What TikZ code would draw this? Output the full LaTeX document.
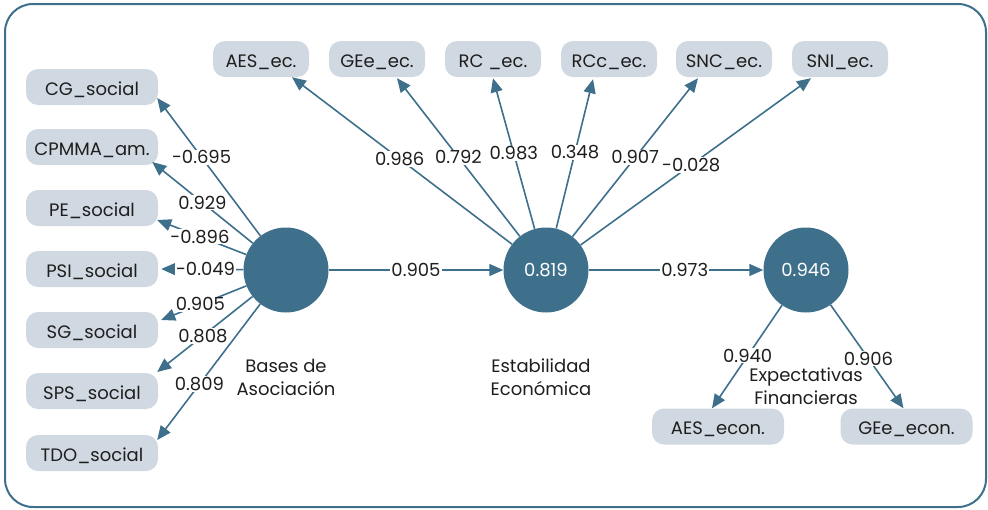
\documentclass[tikz,border=0pt]{standalone}
\usepackage{fontspec}
\setmainfont{Poppins}
\usetikzlibrary{arrows.meta,calc}
\definecolor{pathc}{RGB}{62,112,140}
\definecolor{boxc}{RGB}{208,217,225}
\definecolor{txtc}{RGB}{30,30,30}
\tikzset{
  ind/.style={rounded corners=12pt, fill=boxc, minimum height=36pt, inner sep=0pt, text=txtc, font=\fontsize{18}{21}\selectfont, text height=16pt, text depth=0pt},
  indl/.style={ind, minimum width=132pt},
  indt/.style={ind, minimum width=96pt},
  lat/.style={circle, fill=pathc, minimum size=85pt, inner sep=0pt, text=white, font=\fontsize{18}{21}\selectfont},
  conn/.style={draw=pathc, line width=1.6pt, -{Triangle[length=14pt,width=12pt]}},
  lbl/.style={fill=white, inner sep=1pt, text=txtc, font=\fontsize{18}{21}\selectfont},
  latcaption/.style={align=center, text=txtc, font=\fontsize{18}{23}\selectfont}
}
\begin{document}
\begin{tikzpicture}[x=1pt,y=-1pt]
\useasboundingbox (0,0) rectangle (988,509);
\draw[pathc, line width=2pt, rounded corners=28pt] (5,4) rectangle (986,507);
% latent variables
\node[lat] (ba) at (286,270) {};
\node[lat] (ee) at (546,270) {0.819};
\node[lat] (ef) at (806,270) {0.946};
\node[latcaption] (cba) at (286,377) {Bases de\\Asociación};
\node[latcaption] (cee) at (541,377) {Estabilidad\\Económica};
\node[latcaption] (cef) at (806,386) {Expectativas\\Financieras};
% left indicators
\node[indl] (cg) at (92,87) {CG\_social};
\node[indl] (cp) at (92,147) {CPMMA\_am.};
\node[indl] (pe) at (92,208) {PE\_social};
\node[indl] (psi) at (92,269) {PSI\_social};
\node[indl] (sg) at (92,330) {SG\_social};
\node[indl] (sps) at (92,391) {SPS\_social};
\node[indl] (tdo) at (92,453) {TDO\_social};
% top indicators
\node[indt] (aes) at (261,59) {AES\_ec.};
\node[indt] (gee) at (377,59) {GEe\_ec.};
\node[indt] (rc) at (493,59) {RC \_ec.};
\node[indt] (rcc) at (609,59) {RCc\_ec.};
\node[indt] (snc) at (724,59) {SNC\_ec.};
\node[indt] (sni) at (840,59) {SNI\_ec.};
% bottom indicators
\node[indl] (aesn) at (718,426.5) {AES\_econ.};
\node[indl] (geen) at (906.5,426.5) {GEe\_econ.};
% tip coordinates
\coordinate (tcg) at ($(cg.east)+(-1,11)$);
\coordinate (tcp) at ($(cp.east)+(-6,15)$);
\coordinate (tpe) at ($(pe.east)+(-1,12)$);
\coordinate (tpsi) at ($(psi.east)+(3,0)$);
\coordinate (tsg) at ($(sg.east)+(3,-10)$);
\coordinate (tsps) at ($(sps.east)+(-1,-19)$);
\coordinate (ttdo) at ($(tdo.east)+(-1,-13)$);
\coordinate (taes) at ($(aes.south)+(31,0)$);
\coordinate (tgee) at ($(gee.south)+(20,1)$);
\coordinate (trc) at ($(rc.south)+(0,1)$);
\coordinate (trcc) at ($(rcc.south)+(-16,2)$);
\coordinate (tsnc) at ($(snc.south)+(-26,1)$);
\coordinate (tsni) at ($(sni.south)+(-29,1)$);
\coordinate (taesn) at ($(aesn.north)+(-6,0)$);
\coordinate (tgeen) at ($(geen.north)+(-3,0)$);
% left connectors
\draw[conn] (ba) -- node[lbl,pos=0.57] {-0.695} (tcg);
\draw[conn] (ba) -- node[lbl,pos=0.50] {0.929} (tcp);
\draw[conn] (ba) -- node[lbl,pos=0.52] {-0.896} (tpe);
\draw[conn] (ba) -- node[lbl,pos=0.46] {-0.049} (tpsi);
\draw[conn] (ba) -- node[lbl,pos=0.54] {0.905} (tsg);
\draw[conn] (ba) -- node[lbl,pos=0.52] {0.808} (tsps);
\draw[conn] (ba) -- node[lbl,pos=0.59] {0.809} (ttdo);
% top connectors
\draw[conn] (ee) -- node[lbl,pos=0.51] {0.986} (taes);
\draw[conn] (ee) -- node[lbl,pos=0.50] {0.792} (tgee);
\draw[conn] (ee) -- node[lbl,pos=0.50] {0.983} (trc);
\draw[conn] (ee) -- node[lbl,pos=0.51] {0.348} (trcc);
\draw[conn] (ee) -- node[lbl,pos=0.50] {0.907} (tsnc);
\draw[conn] (ee) -- node[lbl,pos=0.48] {-0.028} (tsni);
% structural
\draw[conn] (ba) -- node[lbl,pos=0.5] {0.905} (ee);
\draw[conn] (ee) -- node[lbl,pos=0.55] {0.973} (ef);
% bottom connectors
\draw[conn] (ef) -- node[lbl,pos=0.49] {0.940} (taesn);
\draw[conn] (ef) -- node[lbl,pos=0.52] {0.906} (tgeen);
\end{tikzpicture}
\end{document}
